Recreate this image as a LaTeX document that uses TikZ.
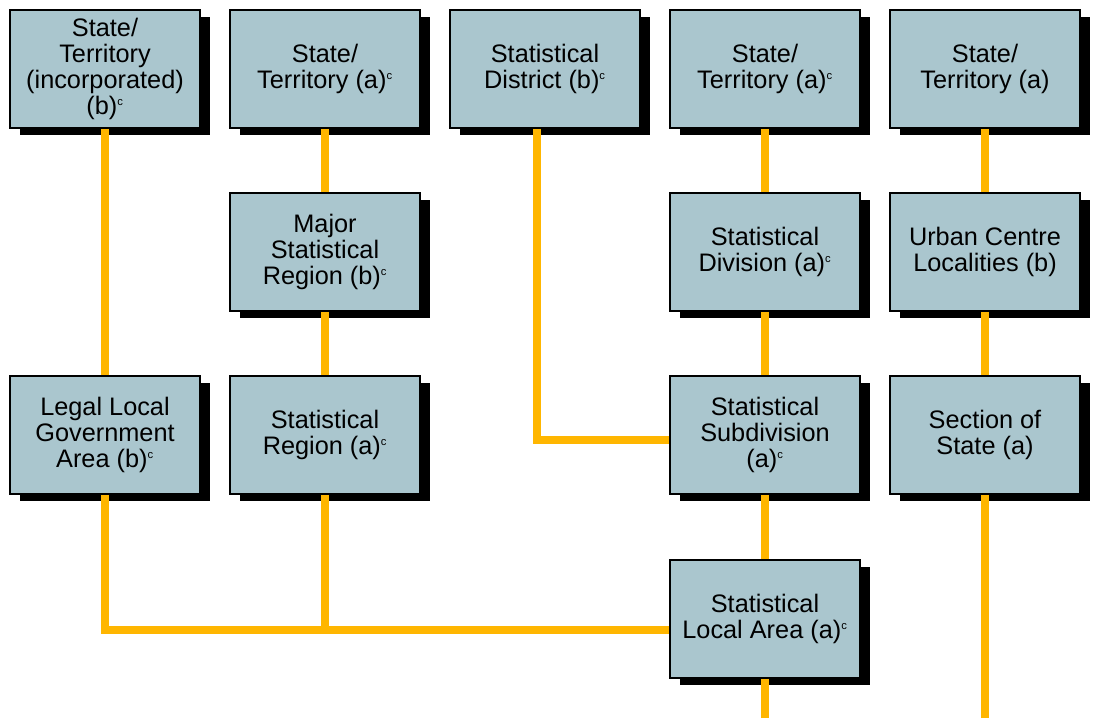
\documentclass[tikz,border=0pt]{standalone}
\usepackage{fontspec}
\setmainfont{Liberation Sans}
\usetikzlibrary{shadows}
\definecolor{boxfill}{RGB}{170,198,206}
\definecolor{linkorange}{RGB}{255,182,0}
\newcommand{\fnmark}{\textsuperscript{\footnotesize c}}

\begin{document}
\begin{tikzpicture}[x=0.025cm, y=-0.025cm,
    unit/.style={draw=black, line width=1.2pt, fill=boxfill,
      minimum width=4.75cm, minimum height=2.95cm, inner sep=2pt,
      align=center, font=\fontsize{18}{18.5}\selectfont,
      drop shadow={fill=black, opacity=1, shadow xshift=0.25cm, shadow yshift=-0.18cm}},
    link/.style={draw=linkorange, line width=5.5pt}]
        \useasboundingbox (0,0) rectangle (1096,718);

        % Define coordinates
        \coordinate (end4) at (765,718);
        \coordinate (end5) at (985,718);

        % Top row
        \node[unit] (stinc) at (105,69) {State/\\Territory\\(incorporated)\\(b)\fnmark};
        \node[unit] (sta) at (325,69) {State/\\Territory (a)\fnmark};
        \node[unit] (sd) at (545,69) {Statistical\\District (b)\fnmark};
        \node[unit] (stb) at (765,69) {State/\\Territory (a)\fnmark};
        \node[unit] (stc) at (985,69) {State/\\Territory (a)};

        % Second row
        \node[unit] (msr) at (325,252) {Major\\Statistical\\Region (b)\fnmark};
        \node[unit] (sdiv) at (765,252) {Statistical\\Division (a)\fnmark};
        \node[unit] (ucl) at (985,252) {Urban Centre\\Localities (b)};

        % Third row
        \node[unit] (lga) at (105,435) {Legal Local\\Government\\Area (b)\fnmark};
        \node[unit] (sr) at (325,435) {Statistical\\Region (a)\fnmark};
        \node[unit] (ssd) at (765,435) {Statistical\\Subdivision\\(a)\fnmark};
        \node[unit] (sos) at (985,435) {Section of\\State (a)};

        % Bottom row
        \node[unit] (sla) at (765,619) {Statistical\\Local Area (a)\fnmark};

        % Join points on the box sides
        \coordinate (sdout) at ([xshift=-0.2cm]sd.south);
        \coordinate (ssdin) at ([yshift=-0.12cm]ssd.west);
        \coordinate (slain) at ([yshift=-0.27cm]sla.west);

        % Draw the connectors
        \draw[link] (stinc) -- (lga);
        \draw[link] (sta) -- (msr);
        \draw[link] (msr) -- (sr);
        \draw[link] (sdout) |- (ssdin);
        \draw[link] (stb) -- (sdiv);
        \draw[link] (sdiv) -- (ssd);
        \draw[link] (ssd) -- (sla);
        \draw[link] (sla) -- (end4);
        \draw[link] (stc) -- (ucl);
        \draw[link] (ucl) -- (sos);
        \draw[link] (sos) -- (end5);
        \draw[link] (lga.south) |- (slain);
        \draw[link] (sr.south) -- (sr.south |- slain);
\end{tikzpicture}
\end{document}
